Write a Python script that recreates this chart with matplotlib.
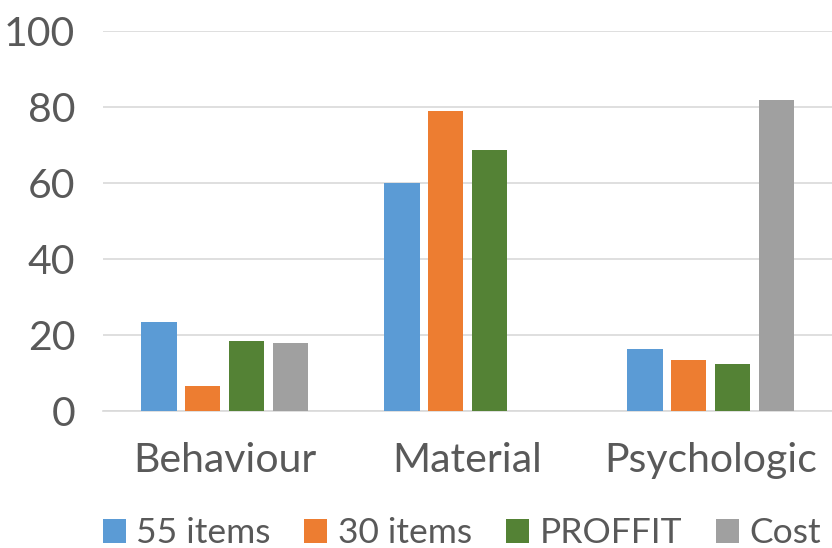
import matplotlib.pyplot as plt
import numpy as np

plt.rcParams['font.family'] = ['Lato', 'DejaVu Sans']

categories = ['Behaviour', 'Material', 'Psychologic']
series_names = ['55 items', '30 items', 'PROFFIT', 'Cost']
values = {
    '55 items': [23.5, 60, 16.3],
    '30 items': [6.6, 79, 13.5],
    'PROFFIT': [18.5, 68.7, 12.4],
    'Cost': [18.0, 0, 81.8],
}
colors = ['#5B9BD5', '#ED7D31', '#548235', '#A0A0A0']

fig = plt.figure(figsize=(8.32, 5.48), dpi=100)
ax = fig.add_axes([0.124, 0.25, 0.876, 0.693])

x = np.arange(len(categories))
step = 0.18
width = 0.145
for j, name in enumerate(series_names):
    ax.bar(x + (j - 1.5) * step, values[name], width, color=colors[j], label=name, zorder=3)

ax.set_xlim(-0.5, 2.5)
ax.set_ylim(0, 100)
ax.set_yticks(np.arange(0, 101, 20))
ax.yaxis.grid(True, color='#D9D9D9', linewidth=1.2, zorder=0)
for s in ['top', 'right', 'left']:
    ax.spines[s].set_visible(False)
ax.spines['bottom'].set_color('#D9D9D9')
ax.spines['bottom'].set_linewidth(1.2)
ax.tick_params(axis='both', length=0, labelsize=29.5, labelcolor='#595959')
ax.tick_params(axis='y', pad=20)
ax.tick_params(axis='x', pad=22)
ax.set_xticks(x)
ax.set_xticklabels(categories)

fig.legend(*ax.get_legend_handles_labels(), loc='center', bbox_to_anchor=(0.555, 0.027),
           ncol=4, frameon=False, fontsize=25.5, labelcolor='#595959',
           handlelength=0.65, handleheight=0.65, handletextpad=0.3,
           columnspacing=0.95, borderpad=0, borderaxespad=0)

fig.savefig('out.png', dpi=100)
